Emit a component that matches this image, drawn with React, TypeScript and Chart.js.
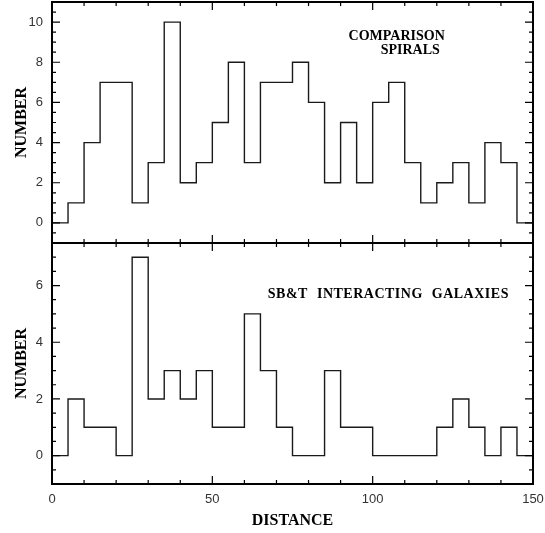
import React, { useEffect, useRef } from "react";
import { Chart, registerables } from "chart.js";

Chart.register(...registerables);

// ---- data ----
const distanceBins = [0, 5, 10, 15, 20, 25, 30, 35, 40, 45, 50, 55, 60, 65, 70, 75, 80, 85, 90, 95, 100, 105, 110, 115, 120, 125, 130, 135, 140, 145];
const distanceEnd = 150;
const spiralCounts = [0, 1, 4, 7, 7, 1, 3, 10, 2, 3, 5, 8, 3, 7, 7, 8, 6, 2, 5, 2, 6, 7, 3, 1, 2, 3, 1, 4, 3, 0];
const interactingCounts = [0, 2, 1, 1, 0, 7, 2, 3, 2, 3, 1, 1, 5, 3, 1, 0, 0, 3, 1, 1, 0, 0, 0, 0, 1, 2, 1, 0, 1, 0];
const xTickLabels = [0, 50, 100, 150];
const spiralYTicks = [0, 2, 4, 6, 8, 10];
const interactingYTicks = [0, 2, 4, 6];
const spiralLabel = ["COMPARISON", "SPIRALS"];
const interactingLabel = ["SB&T INTERACTING GALAXIES"];

const SERIF = "'Liberation Serif', 'Times New Roman', serif";
const SANS = "'Liberation Sans', Arial, sans-serif";

function histPoints(counts: number[]) {
  const pts = distanceBins.map((x, i) => ({ x, y: counts[i] }));
  pts.push({ x: distanceEnd, y: counts[counts.length - 1] });
  return pts;
}

const framePlugin = {
  id: "frameTicks",
  afterDatasetsDraw(chart: any) {
    const { ctx, chartArea: a, scales } = chart;
    const x = scales.x;
    const y = scales.y;
    ctx.save();
    ctx.strokeStyle = "#000";
    ctx.lineWidth = 1.2;
    ctx.beginPath();
    for (let v = x.min; v <= x.max + 1e-6; v += 10) {
      const px = x.getPixelForValue(v);
      const len = Math.abs(v % 50) < 1e-6 ? 8 : 4;
      ctx.moveTo(px, a.bottom);
      ctx.lineTo(px, a.bottom - len);
      ctx.moveTo(px, a.top);
      ctx.lineTo(px, a.top + len);
    }
    for (let v = Math.ceil(y.min / 0.5) * 0.5; v <= y.max + 1e-6; v += 0.5) {
      const py = y.getPixelForValue(v);
      const len = Math.abs(v % 2) < 1e-6 ? 8 : 4;
      ctx.moveTo(a.left, py);
      ctx.lineTo(a.left + len, py);
      ctx.moveTo(a.right, py);
      ctx.lineTo(a.right - len, py);
    }
    ctx.stroke();
    ctx.lineWidth = 2;
    ctx.strokeRect(a.left, a.top, a.right - a.left, a.bottom - a.top);
    ctx.restore();
  },
};

const labelPlugin = {
  id: "panelLabel",
  afterDraw(chart: any) {
    const o = chart.options.plugins.panelLabel;
    if (!o) return;
    const { ctx, scales } = chart;
    ctx.save();
    ctx.fillStyle = "#000";
    ctx.font = `bold 14px ${SERIF}`;
    (ctx as any).letterSpacing = o.letterSpacing || "0px";
    (ctx as any).wordSpacing = o.wordSpacing || "0px";
    ctx.textBaseline = "middle";
    ctx.textAlign = "left";
    o.lines.forEach((t: string, i: number) => {
      ctx.fillText(t, scales.x.getPixelForValue(o.pos[i][0]), scales.y.getPixelForValue(o.pos[i][1]));
    });
    ctx.restore();
  },
};

function makeConfig(counts: number[], yMin: number, yMax: number, yTicks: number[], showX: boolean, padding: any, label: any) {
  return {
    type: "line",
    data: {
      datasets: [
        {
          data: histPoints(counts),
          stepped: true,
          borderColor: "#1a1a1a",
          borderWidth: 1.4,
          pointRadius: 0,
          fill: false,
        },
      ],
    },
    options: {
      animation: false,
      responsive: false,
      layout: { padding, autoPadding: false },
      plugins: { legend: { display: false }, tooltip: { enabled: false }, panelLabel: label },
      scales: {
        x: {
          type: "linear",
          min: 0,
          max: 150,
          display: showX,
          afterBuildTicks: (s: any) => {
            s.ticks = xTickLabels.map((v) => ({ value: v }));
          },
          afterFit: (s: any) => {
            s.height = showX ? 49 : 0;
            s.paddingLeft = 0;
            s.paddingRight = 0;
          },
          grid: { display: false, drawTicks: false },
          border: { display: false },
          ticks: { padding: 8, autoSkip: false, maxRotation: 0, font: { family: SANS, size: 13 }, color: "#333" },
          title: {
            display: true,
            text: "DISTANCE",
            color: "#000",
            font: { family: SERIF, size: 16, weight: "bold" },
            padding: { top: 0, bottom: 3 },
          },
        },
        y: {
          type: "linear",
          min: yMin,
          max: yMax,
          afterBuildTicks: (s: any) => {
            s.ticks = yTicks.map((v) => ({ value: v }));
          },
          afterFit: (s: any) => {
            s.width = 52;
            s.paddingTop = 0;
            s.paddingBottom = 0;
          },
          grid: { display: false, drawTicks: false },
          border: { display: false },
          ticks: { padding: 9, font: { family: SANS, size: 13 }, color: "#333" },
          title: {
            display: true,
            text: "NUMBER",
            color: "#000",
            font: { family: SERIF, size: 16, weight: "bold" },
            padding: { top: 12, bottom: 0 },
          },
        },
      },
    },
    plugins: [framePlugin, labelPlugin],
  };
}

function Panel(props: { top: number; height: number; config: any }) {
  const ref = useRef<HTMLCanvasElement>(null);
  useEffect(() => {
    if (!ref.current) return;
    const chart = new Chart(ref.current, props.config);
    return () => chart.destroy();
  }, []);
  return (
    <canvas
      ref={ref}
      width={545}
      height={props.height}
      style={{ position: "absolute", left: 0, top: props.top, width: 545, height: props.height }}
    />
  );
}

export default function App() {
  const topCfg = makeConfig(spiralCounts, -1, 11, spiralYTicks, false, { top: 2, right: 12, bottom: 2, left: 0 }, {
    lines: spiralLabel,
    pos: [
      [92.5, 9.3],
      [102.5, 8.6],
    ],
  });
  const bottomCfg = makeConfig(interactingCounts, -1, 7.5, interactingYTicks, true, { top: 2, right: 12, bottom: 0, left: 0 }, {
    lines: interactingLabel,
    pos: [[67.3, 5.7]],
    letterSpacing: "0.5px",
    wordSpacing: "5px",
  });
  return (
    <div style={{ position: "absolute", left: 0, top: 0, width: 545, height: 533, background: "#fff" }}>
      <Panel top={0} height={245} config={topCfg} />
      <Panel top={241} height={292} config={bottomCfg} />
    </div>
  );
}
